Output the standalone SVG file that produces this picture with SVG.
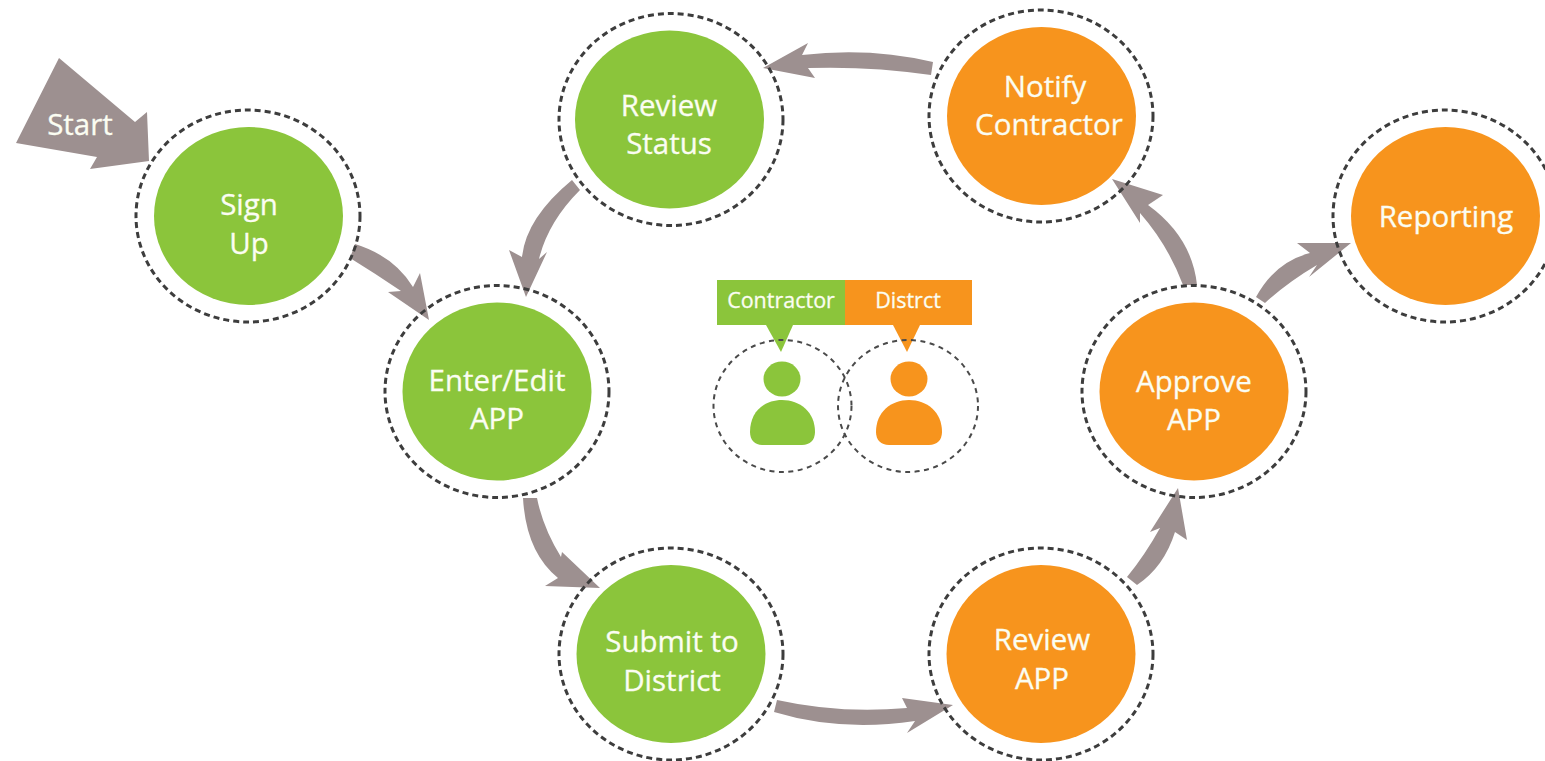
<svg xmlns="http://www.w3.org/2000/svg" width="1545" height="761" viewBox="0 0 1545 761">
<style>
text{font-family:"Open Sans","Noto Sans","Liberation Sans",sans-serif;text-anchor:middle;fill:#fbfdf2;stroke:#fbfdf2;stroke-width:.3}
.n{font-size:29.5px}
.l{font-size:21.5px}
.g{fill:#8bc53b}
.o{fill:#f7941d}
.d{fill:none;stroke:#3d3d3d;stroke-width:3;stroke-dasharray:6 4}
.e{fill:none;stroke:#4a4a4a;stroke-width:2;stroke-dasharray:5 4.5}
.a{fill:#9d9090}
</style>
<rect width="1545" height="761" fill="#fff"/>
<g id="connectors">
<path class="a" d="M59 58L135 122L147 112L149 161L90 169L97 157L16 143Z"/>
<path class="a" d="M355 244Q394 256 413 287L420 273L429 320L388 292L401 291Q376 274 350 258Z"/>
<path class="a" d="M523 498L537 498Q543 528 561 557L562 552L600 588L545 586L558 578Q526 552 523 498Z"/>
<path class="a" d="M777 700Q840 714 907 708L902 698L953 705L907 733L915 721Q840 732 774 712Z"/>
<path class="a" d="M1127 577Q1145 555 1160 528L1150 532L1178 488L1187 540L1175 532Q1164 567 1137 585Z"/>
<path class="a" d="M1183 285L1197 285Q1192 237 1148 205L1163 195L1112 179L1140 223L1140 213Q1168 245 1183 285Z"/>
<path class="a" d="M1256 297L1265 303Q1288 282 1317 265L1309 277L1351 243L1297 243L1310 253Q1275 262 1256 297Z"/>
<path class="a" d="M933 62L931 75Q870 66 808 68L815 78L763 68L808 43L802 55Q870 47 933 62Z"/>
<path class="a" d="M572 180L580 190Q548 222 539 259L547 252L526 297L509 250L522 257Q526 218 572 180Z"/>
</g>
<g id="start"><text class="n" x="80" y="135">Start</text></g>
<g id="sign-up"><ellipse class="d" cx="248" cy="216" rx="112" ry="106"/><ellipse class="g" cx="248.500" cy="216" rx="94.500" ry="89"/><text class="n" x="249" y="215">Sign</text><text class="n" x="249" y="254">Up</text></g>
<g id="enter-edit-app"><ellipse class="d" cx="497" cy="391.500" rx="112" ry="106"/><ellipse class="g" cx="497" cy="391.500" rx="94.500" ry="89"/><text class="n" x="497" y="391">Enter/Edit</text><text class="n" x="497" y="429">APP</text></g>
<g id="submit-to-district"><ellipse class="d" cx="671" cy="654" rx="112" ry="106"/><ellipse class="g" cx="671" cy="654" rx="94.500" ry="89"/><text class="n" x="672" y="652">Submit to</text><text class="n" x="672" y="691">District</text></g>
<g id="review-status"><ellipse class="d" cx="671" cy="119.500" rx="112" ry="106"/><ellipse class="g" cx="669.500" cy="119.500" rx="94.500" ry="89"/><text class="n" x="669" y="116">Review</text><text class="n" x="669" y="154">Status</text></g>
<g id="notify-contractor"><ellipse class="d" cx="1041" cy="116" rx="112" ry="106"/><ellipse class="o" cx="1041.500" cy="116" rx="94.500" ry="89"/><text class="n" x="1045" y="97">Notify</text><text class="n" x="1049" y="135">Contractor</text></g>
<g id="review-app"><ellipse class="d" cx="1041" cy="654" rx="112" ry="106"/><ellipse class="o" cx="1041" cy="654" rx="94.500" ry="89"/><text class="n" x="1042" y="650">Review</text><text class="n" x="1042" y="689">APP</text></g>
<g id="approve-app"><ellipse class="d" cx="1194" cy="391.500" rx="112" ry="106"/><ellipse class="o" cx="1194" cy="391.500" rx="94.500" ry="89"/><text class="n" x="1194" y="392">Approve</text><text class="n" x="1194" y="430">APP</text></g>
<g id="reporting"><ellipse class="d" cx="1445" cy="216" rx="112" ry="106"/><ellipse class="o" cx="1445.500" cy="216" rx="94.500" ry="89"/><text class="n" x="1446" y="227">Reporting</text></g>
<g id="contractor">
<rect class="g" x="717" y="280" width="128" height="45"/><path class="g" d="M766 325H793L781 352Z"/>
<ellipse class="g" cx="782" cy="379" rx="18.500" ry="17.500"/><path class="g" d="M750 432C750 412 764 400 782 400C800 400 815 412 815 432C815 440 810 445 802 445H762C755 445 750 440 750 432Z"/>
<ellipse class="e" cx="782.500" cy="406" rx="69" ry="66"/>
<text class="l" x="781" y="308">Contractor</text>
</g>
<g id="district">
<rect class="o" x="845" y="280" width="127" height="45"/><path class="o" d="M893 325H920L907 352Z"/>
<ellipse class="o" cx="909" cy="379" rx="18.500" ry="17.500"/><path class="o" d="M876 432C876 412 891 400 909 400C927 400 942 412 942 432C942 440 937 445 929 445H889C881 445 876 440 876 432Z"/>
<ellipse class="e" cx="908" cy="406" rx="70" ry="66"/>
<text class="l" x="908" y="308">Distrct</text>
</g>
</svg>
